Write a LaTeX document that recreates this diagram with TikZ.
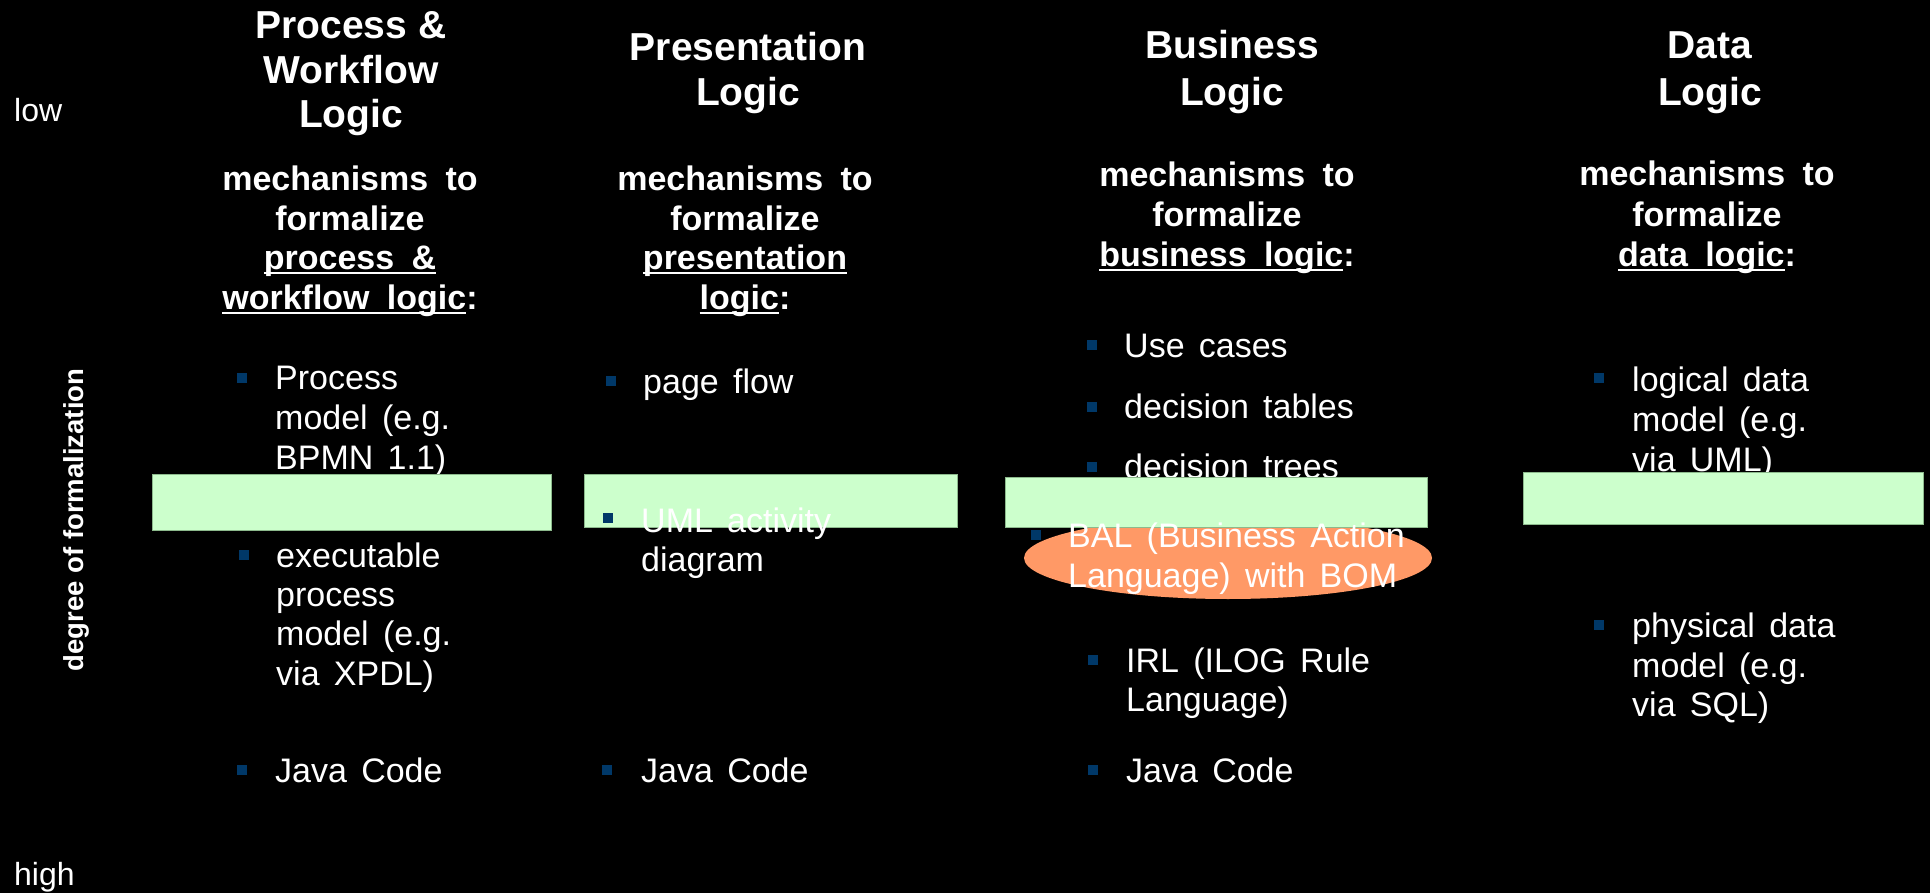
\documentclass[tikz,border=0pt]{standalone}
\usepackage{fontspec}
\setmainfont{Liberation Sans}
\usetikzlibrary{shapes.geometric}
\definecolor{barfill}{RGB}{204,255,204}
\definecolor{barline}{RGB}{140,185,140}
\definecolor{ellfill}{RGB}{255,153,102}
\definecolor{bulletblue}{RGB}{0,56,104}
\newcommand\myul[1]{\leavevmode\setbox0\hbox{#1}\rlap{\rule[-4.5pt]{\wd0}{2pt}}\box0}
\newcommand\widesp{\spaceskip=0.51em\relax}
\newcommand\itmsp{\spaceskip=0.42em\relax}
\tikzset{
  hdr/.style={text=white, font=\fontsize{39}{45}\selectfont\bfseries, anchor=base, inner sep=0pt},
  subhdr/.style={text=white, font=\fontsize{34}{39}\selectfont\bfseries, execute at begin node=\widesp, anchor=base, inner sep=0pt},
  itm/.style={text=white, font=\fontsize{34}{40}\selectfont, execute at begin node=\itmsp, anchor=base west, inner sep=0pt},
  axislbl/.style={text=white, font=\fontsize{32}{38}\selectfont, anchor=base west, inner sep=0pt},
  bsq/.style={fill=bulletblue, minimum size=10.5pt, inner sep=0pt, draw=none, rectangle},
  greenbar/.style={fill=barfill, draw=barline, line width=1pt},
  ell/.style={ellipse, fill=ellfill, draw=none, minimum width=408pt, minimum height=82pt, inner sep=0pt}
}
\begin{document}
\begin{tikzpicture}[x=1pt,y=-1pt]
\useasboundingbox (0,0) rectangle (1930,893);
\fill[black] (0,0) rectangle (1930,893);

% side labels
\node[axislbl] (low) at (14,122) {low};
\node[axislbl] (high) at (14,885) {high};
\node[text=white, font=\fontsize{27.5}{33}\selectfont\bfseries, rotate=90, anchor=base, inner sep=0pt] (degree) at (83,520) {degree of formalization};

% headers
\node[hdr] (h1a) at (351,39) {Process \&};
\node[hdr] (h1b) at (351,83.5) {Workflow};
\node[hdr] (h1c) at (351,128) {Logic};
\node[hdr] (h2a) at (748,61) {Presentation};
\node[hdr] (h2b) at (748,106) {Logic};
\node[hdr] (h3a) at (1232,59) {Business};
\node[hdr] (h3b) at (1232,106) {Logic};
\node[hdr] (h4a) at (1710,59) {Data};
\node[hdr] (h4b) at (1710,106) {Logic};

% sub headers
\node[subhdr] (s1a) at (350,191) {mechanisms to};
\node[subhdr] (s1b) at (350,230.5) {formalize};
\node[subhdr] (s1c) at (350,270) {\myul{process \&}};
\node[subhdr] (s1d) at (350,309.5) {\myul{workflow logic}:};
\node[subhdr] (s2a) at (745,191) {mechanisms to};
\node[subhdr] (s2b) at (745,230.5) {formalize};
\node[subhdr] (s2c) at (745,270) {\myul{presentation}};
\node[subhdr] (s2d) at (745,309.5) {\myul{logic}:};
\node[subhdr] (s3a) at (1227,187) {mechanisms to};
\node[subhdr] (s3b) at (1227,227) {formalize};
\node[subhdr] (s3c) at (1227,267) {\myul{business logic}:};
\node[subhdr] (s4a) at (1707,186) {mechanisms to};
\node[subhdr] (s4b) at (1707,227) {formalize};
\node[subhdr] (s4c) at (1707,267) {\myul{data logic}:};

% column 1 items
\node[bsq] (b1a) at (242,378) {};
\node[itm] (t1a1) at (275,389) {Process};
\node[itm] (t1a2) at (275,429) {model (e.g.};
\node[itm] (t1a3) at (275,469) {BPMN 1.1)};
\node[bsq] (b1b) at (244,555) {};
\node[itm] (t1b1) at (276,567) {executable};
\node[itm] (t1b2) at (276,606) {process};
\node[itm] (t1b3) at (276,645.5) {model (e.g.};
\node[itm] (t1b4) at (276,685) {via XPDL)};
\node[bsq] (b1c) at (242,770) {};
\node[itm] (t1c1) at (275,782) {Java Code};

% column 2 items (not overlapping bar)
\node[bsq] (b2a) at (611,381) {};
\node[itm] (t2a1) at (643,393) {page flow};
\node[bsq] (b2c) at (607,770) {};
\node[itm] (t2c1) at (641,782) {Java Code};

% column 3 items
\node[bsq] (b3a) at (1092,345) {};
\node[itm] (t3a1) at (1124,357) {Use cases};
\node[bsq] (b3b) at (1092,407) {};
\node[itm] (t3b1) at (1124,418) {decision tables};
\node[bsq] (b3c) at (1092,467) {};
\node[itm] (t3c1) at (1124,478) {decision trees};
\node[bsq] (b3e) at (1093,660) {};
\node[itm] (t3e1) at (1126,672) {IRL (ILOG Rule};
\node[itm] (t3e2) at (1126,711) {Language)};
\node[bsq] (b3f) at (1093,770) {};
\node[itm] (t3f1) at (1126,782) {Java Code};

% column 4 items
\node[bsq] (b4a) at (1599,378) {};
\node[itm] (t4a1) at (1632,391) {logical data};
\node[itm] (t4a2) at (1632,431.5) {model (e.g.};
\node[itm] (t4a3) at (1632,471) {via UML)};
\node[bsq] (b4b) at (1599,625) {};
\node[itm] (t4b1) at (1632,637) {physical data};
\node[itm] (t4b2) at (1632,677) {model (e.g.};
\node[itm] (t4b3) at (1632,716) {via SQL)};

% ellipse behind the bar
\node[ell] (balell) at (1228,558) {};

% green bars
\path[greenbar] (152,474) rectangle (551,530);
\path[greenbar] (584,474) rectangle (957,527);
\path[greenbar] (1005,477) rectangle (1427,527);
\path[greenbar] (1523,472) rectangle (1923,524);

% text on top of bars / ellipse
\node[bsq] (b2b) at (608,518) {};
\node[itm] (t2b1) at (641,532) {UML activity};
\node[itm] (t2b2) at (641,571) {diagram};
\node[bsq] (b3d) at (1036,535) {};
\node[itm] (t3d1) at (1068,547) {BAL (Business Action};
\node[itm] (t3d2) at (1068,587) {Language) with BOM};
\end{tikzpicture}
\end{document}
